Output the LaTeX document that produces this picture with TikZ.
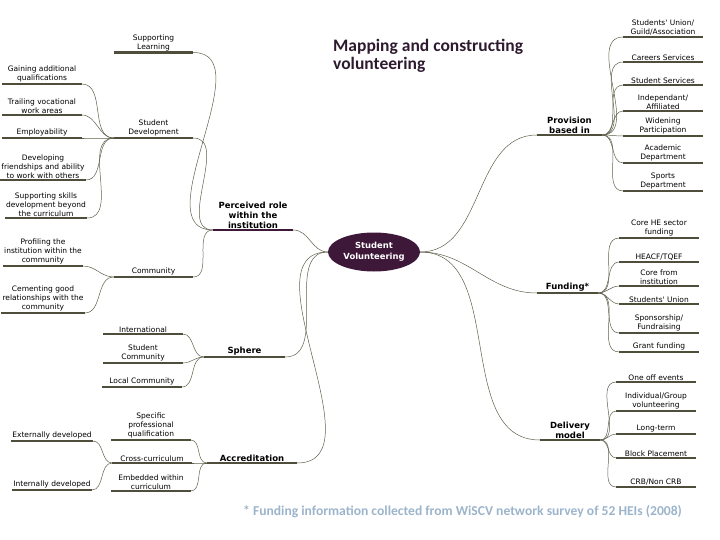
\documentclass[tikz,border=0pt]{standalone}
\usepackage{fontspec}
\usepackage{tikz}
\usetikzlibrary{positioning,calc,shapes.geometric}
\newfontfamily\mapfont{DejaVu Sans}
\newfontfamily\headfont{Carlito}
\definecolor{plum}{HTML}{3E1838}
\definecolor{barcol}{HTML}{4E4E3A}
\definecolor{linkcol}{HTML}{5F5F4C}
\definecolor{notecol}{HTML}{9CB4CB}
\definecolor{titlecol}{HTML}{2E1A2E}
\newcommand{\mapsmall}{\mapfont\fontsize{7.5}{8.9}\selectfont}
\newcommand{\mapbold}{\mapfont\bfseries\fontsize{8.5}{10}\selectfont}

\begin{document}
\begin{tikzpicture}[x=1pt,y=-1pt,
		bar/.style={draw=barcol,line width=2.4pt},
		link/.style={draw=linkcol,line width=0.5pt},
		topic/.style={anchor=south,align=center,minimum width=79pt,inner xsep=1pt,inner ysep=1.6pt,font=\mapsmall,
			append after command={(\tikzlastnode.south west) edge[bar] (\tikzlastnode.south east)}},
		branch/.style={topic,font=\mapbold}]
		
		\useasboundingbox (0,0) rectangle (720,540);
		
		% title and note
		\node[anchor=north west,align=left,inner sep=0pt,text=titlecol,font=\headfont\bfseries\fontsize{17.5}{18}\selectfont] (title) at (333,39) {Mapping and constructing\\volunteering};
		\node[anchor=west,inner sep=0pt,text=notecol,font=\headfont\bfseries\fontsize{13.6}{14}\selectfont] (note) at (243,512) {* Funding information collected from WiSCV network survey of 52 HEIs (2008)};
		
		% centre
		\node[ellipse,fill=plum,text=white,minimum width=92pt,minimum height=39pt,inner sep=0pt,align=center,font=\mapfont\bfseries\fontsize{8.4}{11}\selectfont] (sv) at (374,252) {Student\\Volunteering};
		
		% left branches
		\node[branch,minimum width=80pt,append after command={(\tikzlastnode.south west) edge[bar,draw=plum] (\tikzlastnode.south east)}] (perc) at (253,230) {Perceived role\\within the\\institution};
		\node[topic] (suplearn) at (153.5,52.5) {Supporting\\Learning};
		\node[topic] (studdev) at (153.5,138) {Student\\Development};
		\node[topic] (comm) at (153.5,277) {Community};
		
		\node[topic] (gain) at (42,84) {Gaining additional\\qualifications};
		\node[topic] (trail) at (42,115) {Trailing vocational\\work areas};
		\node[topic] (employ) at (42,138) {Employability};
		\node[topic] (friend) at (43,180) {Developing\\friendships and ability\\to work with others};
		\node[topic] (skills) at (46,218) {Supporting skills\\development beyond\\the curriculum};
		\node[topic] (profile) at (43,266) {Profiling the\\institution within the\\community};
		\node[topic] (cement) at (43,313) {Cementing good\\relationships with the\\community};
		
		\node[branch,minimum width=81pt] (sphere) at (244.5,357) {Sphere};
		\node[topic] (intl) at (143,334) {International};
		\node[topic] (studcomm) at (143,363) {Student\\Community};
		\node[topic] (local) at (142,387) {Local Community};
		
		\node[branch,minimum width=90pt] (accred) at (252,463) {Accreditation};
		\node[topic] (specific) at (151,440) {Specific\\professional\\qualification};
		\node[topic] (cross) at (152,463) {Cross-curriculum};
		\node[topic] (embed) at (151,491) {Embedded within\\curriculum};
		\node[topic] (ext) at (52,441) {Externally developed};
		\node[topic] (int) at (52,490) {Internally developed};
		
		% right branches
		\node[branch,minimum width=65pt] (prov) at (569.5,135) {Provision\\based in};
		\node[topic] (su) at (663,37) {Students' Union/\\Guild/Association};
		\node[topic] (careers) at (663,62) {Careers Services};
		\node[topic] (studserv) at (663,85) {Student Services};
		\node[topic] (indep) at (663,111) {Independant/\\Affiliated};
		\node[topic] (widen) at (663,136) {Widening\\Participation};
		\node[topic] (acad) at (663,163) {Academic\\Department};
		\node[topic] (sports) at (663,191) {Sports\\Department};
		
		\node[branch,minimum width=61pt] (fund) at (567.5,293) {Funding*};
		\node[topic] (corehe) at (659,238) {Core HE sector\\funding};
		\node[topic] (heacf) at (659,262) {HEACF/TQEF};
		\node[topic] (coreinst) at (659,286) {Core from\\institution};
		\node[topic] (sunion) at (659,304) {Students' Union};
		\node[topic] (spons) at (659,333) {Sponsorship/\\Fundraising};
		\node[topic] (grant) at (659,352) {Grant funding};
		
		\node[branch,minimum width=60pt] (deliv) at (570,440) {Delivery\\model};
		\node[topic] (oneoff) at (656,382) {One off events};
		\node[topic] (indiv) at (656,411) {Individual/Group\\volunteering};
		\node[topic] (longterm) at (656,434) {Long-term};
		\node[topic] (block) at (656,458) {Block Placement};
		\node[topic] (crb) at (656,487) {CRB/Non CRB};
		
		% connectors
		\foreach \b in {perc,sphere,accred}
			\draw[link] (\b.south east) to[out=0,in=180] (sv.west);
		\foreach \b in {prov,fund,deliv}
			\draw[link] (sv.east) to[out=0,in=180] (\b.south west);
		\foreach \c in {suplearn,studdev,comm}
			\draw[link] (perc.south west) to[out=180,in=0] (\c.south east);
		\foreach \c in {gain,trail,employ,friend,skills}
			\draw[link] (studdev.south west) to[out=180,in=0] (\c.south east);
		\foreach \c in {profile,cement}
			\draw[link] (comm.south west) to[out=180,in=0] (\c.south east);
		\foreach \c in {intl,studcomm,local}
			\draw[link] (sphere.south west) to[out=180,in=0] (\c.south east);
		\foreach \c in {specific,cross,embed}
			\draw[link] (accred.south west) to[out=180,in=0] (\c.south east);
		\foreach \c in {ext,int}
			\draw[link] (cross.south west) to[out=180,in=0] (\c.south east);
		\foreach \c in {su,careers,studserv,indep,widen,acad,sports}
			\draw[link] (prov.south east) to[out=0,in=180] (\c.south west);
		\foreach \c in {corehe,heacf,coreinst,sunion,spons,grant}
			\draw[link] (fund.south east) to[out=0,in=180] (\c.south west);
		\foreach \c in {oneoff,indiv,longterm,block,crb}
			\draw[link] (deliv.south east) to[out=0,in=180] (\c.south west);
		
	\end{tikzpicture}
\end{document}
